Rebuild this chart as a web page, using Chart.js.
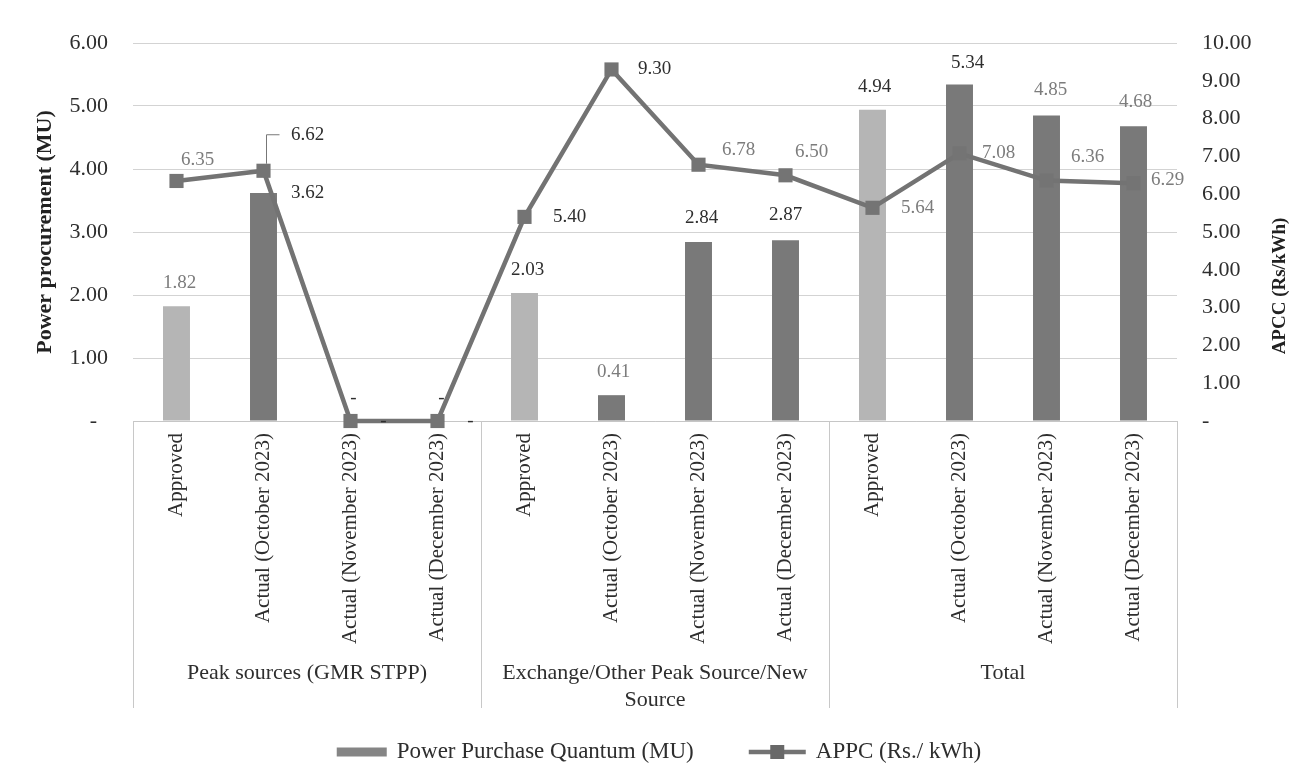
<!DOCTYPE html>
<html>
<head>
<meta charset="utf-8">
<script src="https://cdn.jsdelivr.net/npm/chart.js@4.4.1/dist/chart.umd.min.js"></script>
<style>
html,body{margin:0;padding:0;background:#fff;}
#c{display:block;width:1298px;height:784px;}
</style>
</head>
<body>
<canvas id="c" width="1298" height="784"></canvas>
<script>
// ---------- data ----------
const categories = [
  'Approved', 'Actual (October 2023)', 'Actual (November 2023)', 'Actual (December 2023)',
  'Approved', 'Actual (October 2023)', 'Actual (November 2023)', 'Actual (December 2023)',
  'Approved', 'Actual (October 2023)', 'Actual (November 2023)', 'Actual (December 2023)'
];
const groupLabels = [
  ['Peak sources (GMR STPP)'],
  ['Exchange/Other Peak Source/New', 'Source'],
  ['Total']
];
const groupSizes = [4, 4, 4];
const quantumMU = [1.82, 3.62, 0, 0, 2.03, 0.41, 2.84, 2.87, 4.94, 5.34, 4.85, 4.68];
const appcRs = [6.35, 6.62, 0, 0, 5.40, 9.30, 6.78, 6.50, 5.64, 7.08, 6.36, 6.29];
const leftTicks = [0, 1, 2, 3, 4, 5, 6];
const rightTicks = [0, 1, 2, 3, 4, 5, 6, 7, 8, 9, 10];
const seriesNames = ['Power Purchase Quantum (MU)', 'APPC (Rs./ kWh)'];
const axisTitles = ['Power procurement (MU)', 'APCC (Rs/kWh)'];

// ---------- style ----------
const FONT = "'Liberation Serif', 'Times New Roman', serif";
const APPROVED_COL = '#b5b5b5';
const ACTUAL_COL = '#797979';
const LINE_COL = '#737373';
const POINT_COL = '#747474';
const DARK = '#2e2e2e';
const LIGHT = '#7c7c7c';
// label offsets (px) relative to each mark, plus label tones
const barLabelOffset = [[3,-23],[44,0],[33,0],[33,0],[3,-23],[2,-23],[3,-24],[0,-25],[2,-23],[8,-22],[4,-25],[2,-24]];
const barLabelTone   = [LIGHT,DARK,DARK,DARK,DARK,LIGHT,DARK,DARK,DARK,DARK,LIGHT,LIGHT];
const lineLabelOffset = [[21,-21],[44,-36],[3,-23],[4,-23],[45,0],[43,0],[40,-15],[26,-23],[45,0],[39,0],[41,-24],[34,-3]];
const lineLabelTone   = [LIGHT,DARK,DARK,DARK,DARK,DARK,LIGHT,LIGHT,LIGHT,LIGHT,LIGHT,LIGHT];

const fmt = v => (v === 0 ? '-' : v.toFixed(2));

Chart.defaults.font.family = FONT;
Chart.defaults.color = DARK;

const dataLabelPlugin = {
  id: 'dataLabels',
  afterDatasetsDraw(chart) {
    const ctx = chart.ctx;
    const bm = chart.getDatasetMeta(0);
    const lm = chart.getDatasetMeta(1);
    ctx.save();
    ctx.font = '19px ' + FONT;
    ctx.textAlign = 'center';
    ctx.textBaseline = 'middle';
    quantumMU.forEach((v, i) => {
      const el = bm.data[i];
      ctx.fillStyle = barLabelTone[i];
      ctx.fillText(fmt(v), el.x + barLabelOffset[i][0], el.y + barLabelOffset[i][1]);
    });
    appcRs.forEach((v, i) => {
      const el = lm.data[i];
      ctx.fillStyle = lineLabelTone[i];
      ctx.fillText(fmt(v), el.x + lineLabelOffset[i][0], el.y + lineLabelOffset[i][1]);
    });
    // leader line for the second line label
    const p = lm.data[1];
    ctx.strokeStyle = '#777';
    ctx.lineWidth = 1;
    ctx.beginPath();
    ctx.moveTo(p.x + 3, p.y - 7);
    ctx.lineTo(p.x + 3, p.y - 36);
    ctx.lineTo(p.x + 16, p.y - 36);
    ctx.stroke();
    ctx.restore();
  }
};

const groupPlugin = {
  id: 'groups',
  afterDraw(chart) {
    const ctx = chart.ctx, x = chart.scales.x, a = chart.chartArea;
    const bounds = [a.left];
    let idx = 0;
    groupSizes.forEach(n => {
      idx += n;
      if (idx < categories.length) bounds.push((x.getPixelForValue(idx - 1) + x.getPixelForValue(idx)) / 2);
    });
    bounds.push(a.right);
    ctx.save();
    ctx.strokeStyle = '#c8c8c8';
    ctx.lineWidth = 1;
    bounds.forEach(b => {
      ctx.beginPath();
      ctx.moveTo(Math.round(b) + 0.5, a.bottom);
      ctx.lineTo(Math.round(b) + 0.5, 708);
      ctx.stroke();
    });
    ctx.fillStyle = DARK;
    ctx.font = '22px ' + FONT;
    ctx.textAlign = 'center';
    ctx.textBaseline = 'middle';
    groupLabels.forEach((lines, g) => {
      const cx = (bounds[g] + bounds[g + 1]) / 2;
      lines.forEach((t, k) => ctx.fillText(t, cx, 673 + k * 27));
    });
    // right axis title (reads bottom to top)
    ctx.save();
    ctx.translate(1280, 286);
    ctx.rotate(-Math.PI / 2);
    ctx.font = 'bold 19px ' + FONT;
    ctx.fillStyle = '#222';
    ctx.fillText(axisTitles[1], 0, 0);
    ctx.restore();
    // legend
    ctx.font = '23px ' + FONT;
    ctx.textAlign = 'left';
    const w1 = ctx.measureText(seriesNames[0]).width;
    const w2 = ctx.measureText(seriesNames[1]).width;
    const total = 50 + 10 + w1 + 55 + 57 + 10 + w2;
    let sx = 659 - total / 2;
    const ly = 752;
    ctx.fillStyle = '#858585';
    ctx.fillRect(sx, ly - 4.5, 50, 9);
    ctx.fillStyle = DARK;
    ctx.fillText(seriesNames[0], sx + 60, ly);
    sx += 60 + w1 + 55;
    ctx.strokeStyle = LINE_COL;
    ctx.lineWidth = 4.5;
    ctx.beginPath();
    ctx.moveTo(sx, ly);
    ctx.lineTo(sx + 57, ly);
    ctx.stroke();
    ctx.fillStyle = '#686868';
    ctx.fillRect(sx + 28.5 - 7, ly - 7, 14, 14);
    ctx.fillStyle = DARK;
    ctx.fillText(seriesNames[1], sx + 67, ly);
    ctx.restore();
  }
};

new Chart(document.getElementById('c'), {
  type: 'bar',
  data: {
    labels: categories,
    datasets: [
      {
        type: 'bar',
        label: seriesNames[0],
        data: quantumMU,
        yAxisID: 'y',
        backgroundColor: categories.map(c => (c === 'Approved' ? APPROVED_COL : ACTUAL_COL)),
        borderWidth: 0,
        categoryPercentage: 1,
        barPercentage: 0.31,
        order: 2
      },
      {
        type: 'line',
        label: seriesNames[1],
        data: appcRs,
        yAxisID: 'y1',
        borderColor: LINE_COL,
        borderWidth: 4.5,
        pointStyle: 'rect',
        pointRadius: 10,
        pointHoverRadius: 10,
        pointBackgroundColor: POINT_COL,
        pointBorderWidth: 0,
        tension: 0,
        clip: false,
        order: 1
      }
    ]
  },
  options: {
    responsive: false,
    animation: false,
    devicePixelRatio: 1,
    layout: { padding: { left: 28, right: 0, top: 43, bottom: 0 } },
    plugins: { legend: { display: false }, tooltip: { enabled: false } },
    scales: {
      x: {
        offset: true,
        grid: { display: false, drawTicks: false },
        border: { display: true, color: '#c6c6c6', width: 1 },
        ticks: { autoSkip: false, minRotation: 90, maxRotation: 90, padding: 12, color: DARK, font: { size: 21 } },
        afterFit(s) { s.height = 363; }
      },
      y: {
        position: 'left',
        min: leftTicks[0],
        max: leftTicks[leftTicks.length - 1],
        afterBuildTicks(s) { s.ticks = leftTicks.map(v => ({ value: v })); },
        ticks: { padding: 25, color: DARK, font: { size: 22 }, callback: v => (v === 0 ? '-  ' : fmt(v)) },
        grid: { color: '#d3d3d3', lineWidth: 1, drawTicks: false },
        border: { display: false },
        title: { display: true, text: axisTitles[0], color: '#222', font: { size: 22, weight: 'bold' }, padding: { top: 4, bottom: 4 } },
        afterFit(s) { s.width = 105; }
      },
      y1: {
        position: 'right',
        min: rightTicks[0],
        max: rightTicks[rightTicks.length - 1],
        afterBuildTicks(s) { s.ticks = rightTicks.map(v => ({ value: v })); },
        ticks: { padding: 25, color: DARK, font: { size: 22 }, callback: v => fmt(v) },
        grid: { display: false, drawTicks: false },
        border: { display: false },
        afterFit(s) { s.width = 121; }
      }
    }
  },
  plugins: [dataLabelPlugin, groupPlugin]
});
</script>
</body>
</html>
